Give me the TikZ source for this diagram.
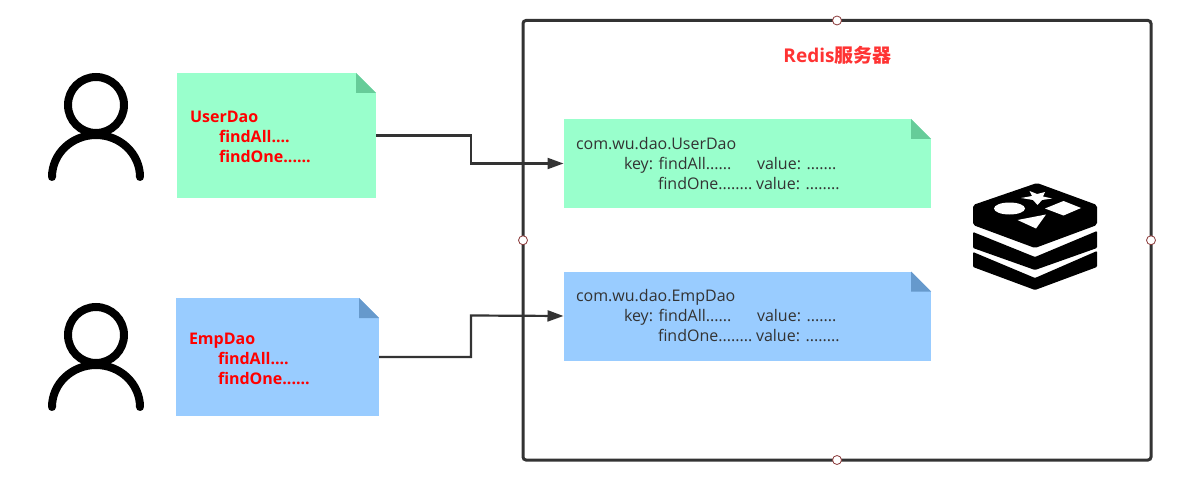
\documentclass[tikz,border=0pt]{standalone}
\usepackage{fontspec}
\setmainfont{Open Sans}
\newfontfamily\cjk{Noto Sans CJK SC}
\usetikzlibrary{arrows.meta}
\definecolor{notegreen}{HTML}{99FFCC}
\definecolor{foldgreen}{HTML}{66CC99}
\definecolor{noteblue}{HTML}{99CCFF}
\definecolor{foldblue}{HTML}{6699CC}
\definecolor{boxgray}{HTML}{333333}
\definecolor{titlered}{HTML}{FF3333}
\definecolor{handlered}{HTML}{8B3A3A}
\newcommand{\foldsize}{20}
\newcommand{\tightgap}{\hspace{-2.5pt}}
\newcommand{\foldcorner}[2]{
        \fill[white] (#1.north east) -- +(-\foldsize, 0) -- +(0, \foldsize) -- cycle;
        \fill[#2] (#1.north east) +(-\foldsize, 0) -- +(-\foldsize, \foldsize) -- +(0, \foldsize) -- cycle;
}
\newcommand{\person}[2]{
        \draw[personline] (#1, #2) circle[radius=28pt];
        \draw[personline] (#1-44, #2+72) arc[start angle=180, end angle=0, x radius=44pt, y radius=42pt];
}
\tikzstyle{note}=[fill, inner sep=0, outer sep=0, anchor=north west, align=left]
\tikzstyle{clientnote}=[note, font=\fontsize{16}{20}\selectfont\bfseries, text=red, inner xsep=13.5pt, execute at begin node={\rule{0pt}{14.5pt}}]
\tikzstyle{servernote}=[note, font=\fontsize{16}{20}\selectfont, text=boxgray, minimum width=367.5pt, minimum height=89pt, text width=342.5pt, inner xsep=12.5pt]
\tikzstyle{personline}=[line width=8pt, line cap=round]
\tikzstyle{flow}=[boxgray, line width=2.2pt, -{Triangle[length=16pt, width=11pt]}]
\tikzstyle{handle}=[circle, draw=handlered, fill=white, line width=0.8pt, inner sep=0, minimum size=9pt]
\begin{document}
\begin{tikzpicture}[x=1pt, y=-1pt]
        \useasboundingbox (0, 0) rectangle (1185, 481);
        \node[draw=boxgray, line width=3pt, rounded corners=3pt, outer sep=0, minimum width=628pt, minimum height=439.5pt, inner sep=0, anchor=north west] (Server) at (523, 20.5) {};
        \node[font=\fontsize{19}{20}\selectfont\bfseries, text=titlered, inner sep=0] (ServerTitle) at (837.5, 55) {Redis{\cjk 服务器}};
        \node[handle] (ServerN) at (Server.north) {};
        \node[handle] (ServerS) at (Server.south) {};
        \node[handle] (ServerW) at (Server.west) {};
        \node[handle] (ServerE) at (Server.east) {};

        \person{96}{105}
        \person{96}{335}

        \node[clientnote, fill=notegreen, minimum width=199.5pt, minimum height=125pt, text width=172.5pt] (UserNote) at (176.5, 73) {UserDao\\\hspace*{29pt}findAll....\\\hspace*{29pt}findOne......};
        \node[clientnote, fill=noteblue, minimum width=203.5pt, minimum height=118pt, text width=176.5pt] (EmpNote) at (175.5, 298) {EmpDao\\\hspace*{29pt}findAll....\\\hspace*{29pt}findOne......};
        \foldcorner{UserNote}{foldgreen}
        \foldcorner{EmpNote}{foldblue}

        \node[servernote, fill=notegreen] (UserCache) at (563.5, 119) {com.wu.dao.UserDao\\\hspace*{48pt}\makebox[133pt][l]{key: \tightgap findAll......}value: \tightgap .......\\\hspace*{82pt}\makebox[98pt][l]{findOne........}value: \tightgap ........};
        \node[servernote, fill=noteblue] (EmpCache) at (563.5, 271.5) {com.wu.dao.EmpDao\\\hspace*{48pt}\makebox[133pt][l]{key: \tightgap findAll......}value: \tightgap .......\\\hspace*{82pt}\makebox[98pt][l]{findOne........}value: \tightgap ........};
        \foldcorner{UserCache}{foldgreen}
        \foldcorner{EmpCache}{foldblue}

        \coordinate (UserBend) at (471, 163.5);
        \coordinate (EmpBend) at (471, 315.5);
        \draw[flow] (UserNote.east) -| (UserBend) -- (UserCache.west);
        \draw[flow] (EmpNote.east) -| (EmpBend) -- (EmpCache.west);

        % Redis logo
        \fill[rounded corners=2pt] (1037, 183) -- (1097, 205) -- (1097, 225) -- (1035, 248) -- (973, 225) -- (973, 205) -- cycle;
        \fill[rounded corners=1pt] (973, 232) -- (1035, 257) -- (1097, 231) -- (1097, 248) -- (1035, 270) -- (973, 248) -- cycle;
        \fill[rounded corners=1pt] (973, 252) -- (1035, 278) -- (1097, 251) -- (1097, 267) -- (1035, 290) -- (973, 267) -- cycle;
        \fill[white] (1009.5, 208.5) ellipse[x radius=15.5pt, y radius=6pt];
        \fill[white] (1029.5, 191) -- (1037, 194) -- (1045, 192) -- (1043, 196.5) -- (1052, 198.5) -- (1042, 200) -- (1037.5, 205) -- (1033, 200) -- (1021, 198) -- (1032, 196) -- cycle;
        \fill[white] (1063.5, 201) -- (1081, 208) -- (1063.5, 215.5) -- (1045, 208.5) -- cycle;
        \fill[white] (1017.5, 220) -- (1046, 214.5) -- (1036, 228.5) -- cycle;
\end{tikzpicture}
\end{document}
